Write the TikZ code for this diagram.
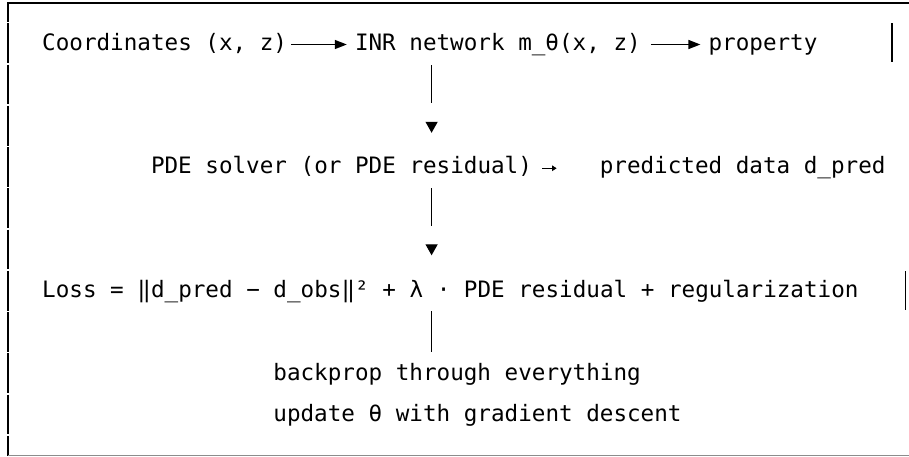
\documentclass[tikz,border=0pt]{standalone}
\usepackage{fontspec}
\setmonofont{DejaVu Sans Mono}
\usetikzlibrary{arrows.meta}
\newcommand{\mono}{\fontsize{22.6}{27}\ttfamily}
\tikzstyle{rowtxt} = [inner sep=0pt, text height=17pt, text depth=6pt, anchor=base west, font=\mono]
\tikzstyle{flowarrow} = [line width=1.4pt, -{Triangle[length=12pt, width=9pt]}]
\tikzstyle{downlink} = [line width=1.3pt, dash pattern=on 38pt off 200pt, -{Triangle[length=11pt, width=12pt]}]
\tikzstyle{boxline} = [line width=1.4pt]

\begin{document}
\begin{tikzpicture}[x=1pt, y=-1pt]
\useasboundingbox (0,0) rectangle (909,456);

% frame, drawn like box-drawing characters
\draw[line width=2.2pt] (7.3,3) -- (909,3);
\draw[boxline, dash pattern=on 39.75pt off 1.5pt, dash phase=21pt] (8,3) -- (8,456);
\draw[line width=0.8pt, black!45] (8,455.4) -- (909,455.4);
\draw[boxline] (892,23) -- (892,62);
\draw[boxline] (905.6,271) -- (905.6,310);

% text rows
\node[rowtxt] (coord) at (42,50) {Coordinates (x, z)};
\node[rowtxt] (inr) at (354.8,50) {INR network m\_θ(x, z)};
\node[rowtxt] (prop) at (708.4,50) {property};
\node[rowtxt] (pde) at (150.8,173.75) {PDE solver (or PDE residual)};
\node[rowtxt] (pred) at (599.6,173.75) {predicted data d\_pred};
\node[rowtxt] (loss) at (42,297.5) {Loss = ‖d\_pred − d\_obs‖² + λ · PDE residual + regularization};
\node[rowtxt] (back) at (273.2,380) {backprop through everything};
\node[rowtxt] (upd) at (273.2,421.25) {update θ with gradient descent};

\coordinate (barx) at (431.6,0);

% arrows
\draw[flowarrow, shorten <=4pt, shorten >=8pt] (coord.east) -- (inr.west);
\draw[flowarrow, shorten <=10pt, shorten >=8pt] (inr.east) -- (prop.west);
\draw[line width=0.9pt, -{Triangle[length=4.5pt, width=5.5pt]}, shorten <=10pt, shorten >=43pt] (pde.east) -- (pred.west);

\draw[downlink, shorten <=9pt, shorten >=23.75pt] (inr.south -| barx) -- (pde.north -| barx);
\draw[downlink, shorten <=8.25pt, shorten >=25pt] (pde.south -| barx) -- (loss.north -| barx);
\draw[line width=1.3pt, shorten <=7.5pt, shorten >=11pt] (loss.south -| barx) -- (back.north -| barx);
\end{tikzpicture}
\end{document}
